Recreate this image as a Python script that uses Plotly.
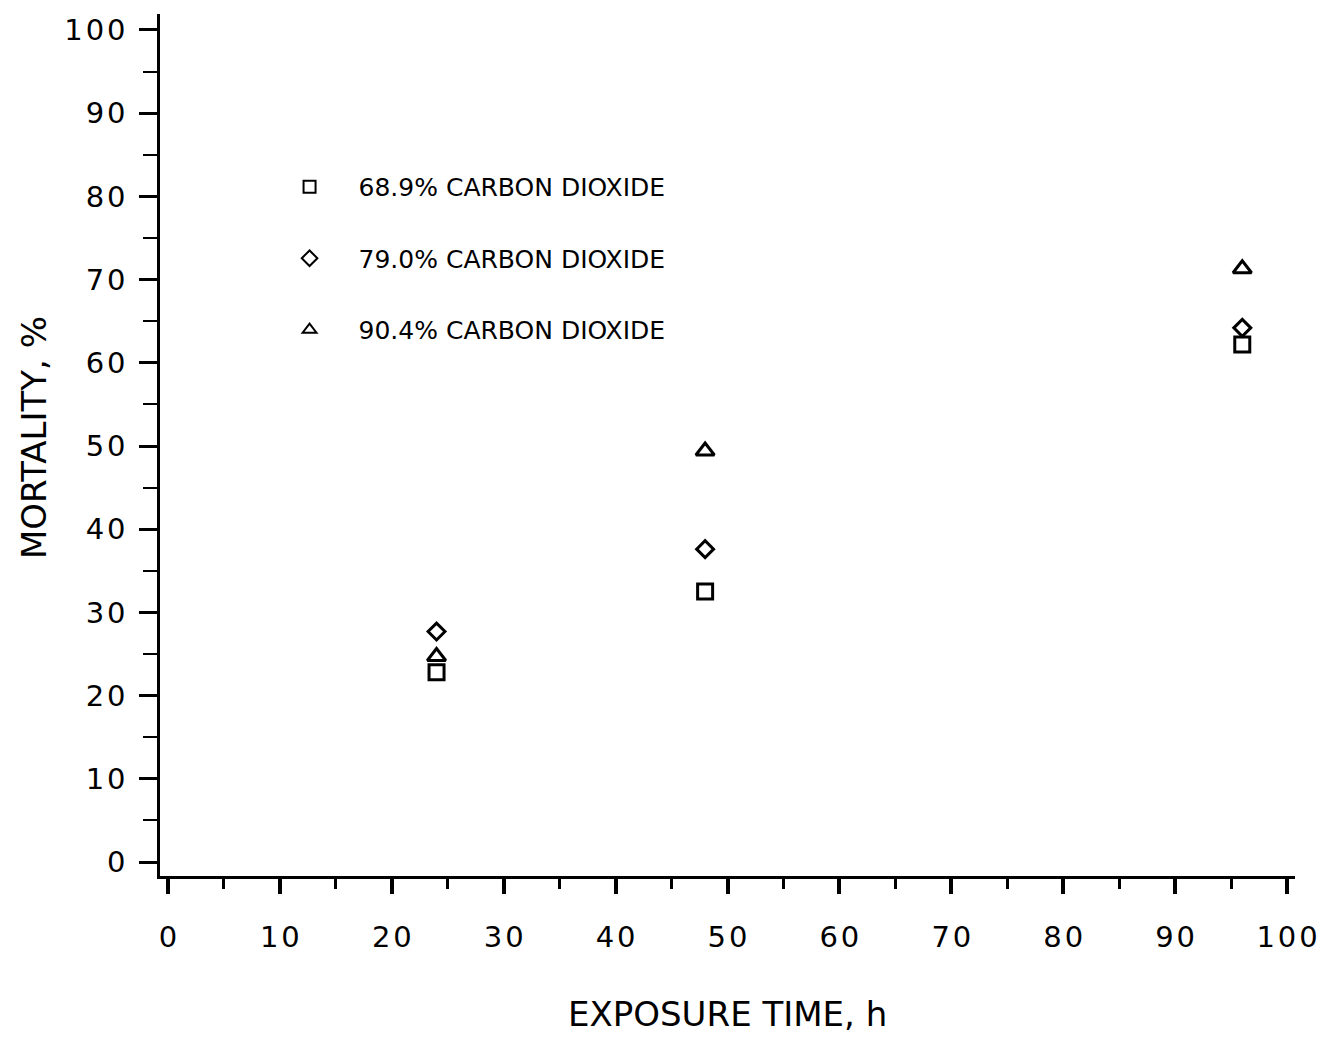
import plotly.graph_objects as go

exposure_h = [24, 48, 96]
series_names = ["68.9% CARBON DIOXIDE", "79.0% CARBON DIOXIDE", "90.4% CARBON DIOXIDE"]
mort_689 = [22.8, 32.5, 62.2]
mort_790 = [27.7, 37.6, 64.2]
mort_904 = [24.7, 49.4, 71.3]
x_ticks = [0, 10, 20, 30, 40, 50, 60, 70, 80, 90, 100]
y_ticks = [0, 10, 20, 30, 40, 50, 60, 70, 80, 90, 100]
tick_labels = ["0", "1\u200a0", "2\u200a0", "3\u200a0", "4\u200a0", "5\u200a0",
               "6\u200a0", "7\u200a0", "8\u200a0", "9\u200a0", "1\u200a0\u200a0"]

FONT = "DejaVu Sans"
symbols = ["square-open", "diamond-open", "triangle-up-open"]
sizes = [15, 13, 16]
fig = go.Figure()
for i, (name, vals) in enumerate(zip(series_names, [mort_689, mort_790, mort_904])):
    fig.add_trace(go.Scatter(
        x=exposure_h, y=vals, mode="markers", name=name,
        legendgroup=f"g{i}",
        marker=dict(symbol=symbols[i], size=sizes[i], color="black",
                    line=dict(color="black", width=3)),
    ))

axis_common = dict(
    showline=True, linecolor="black", linewidth=2.5,
    showgrid=False, zeroline=False,
    ticks="outside", tickcolor="black",
    tickfont=dict(family=FONT, size=29, color="black"),
)

fig.update_xaxes(
    **axis_common, range=[-0.712, 100.712], tickvals=x_ticks, ticktext=tick_labels,
    ticklen=15, tickwidth=4, ticklabelstandoff=18,
    minor=dict(dtick=5, tick0=0, ticks="outside", ticklen=10, tickwidth=3, tickcolor="black"),
)
fig.update_yaxes(
    **axis_common, range=[-1.68, 101.92], tickvals=y_ticks, ticktext=tick_labels,
    ticklen=18, tickwidth=3, ticklabelstandoff=8,
    minor=dict(dtick=5, tick0=0, ticks="outside", ticklen=14, tickwidth=2, tickcolor="black"),
)

fig.add_annotation(text="EXPOSURE TIME, h", xref="paper", yref="paper",
                   x=0.4996, y=-0.16, xanchor="center", yanchor="middle", showarrow=False,
                   font=dict(family=FONT, size=34, color="black"))
fig.add_annotation(text="MORTALITY, %", xref="paper", yref="paper",
                   x=-0.1114, y=0.5087, xanchor="center", yanchor="middle",
                   showarrow=False, textangle=-90,
                   font=dict(family=FONT, size=34, color="black"))

fig.update_layout(
    width=1315, height=1029,
    margin=dict(l=152, r=23, t=5, b=161),
    paper_bgcolor="white", plot_bgcolor="white",
    showlegend=True,
    legend=dict(x=0.0886, y=0.826, xanchor="left", yanchor="top",
                font=dict(family=FONT, size=25, color="black"),
                itemsizing="constant", itemwidth=88, tracegroupgap=36,
                bgcolor="rgba(0,0,0,0)"),
)

fig.write_html("out.html")
